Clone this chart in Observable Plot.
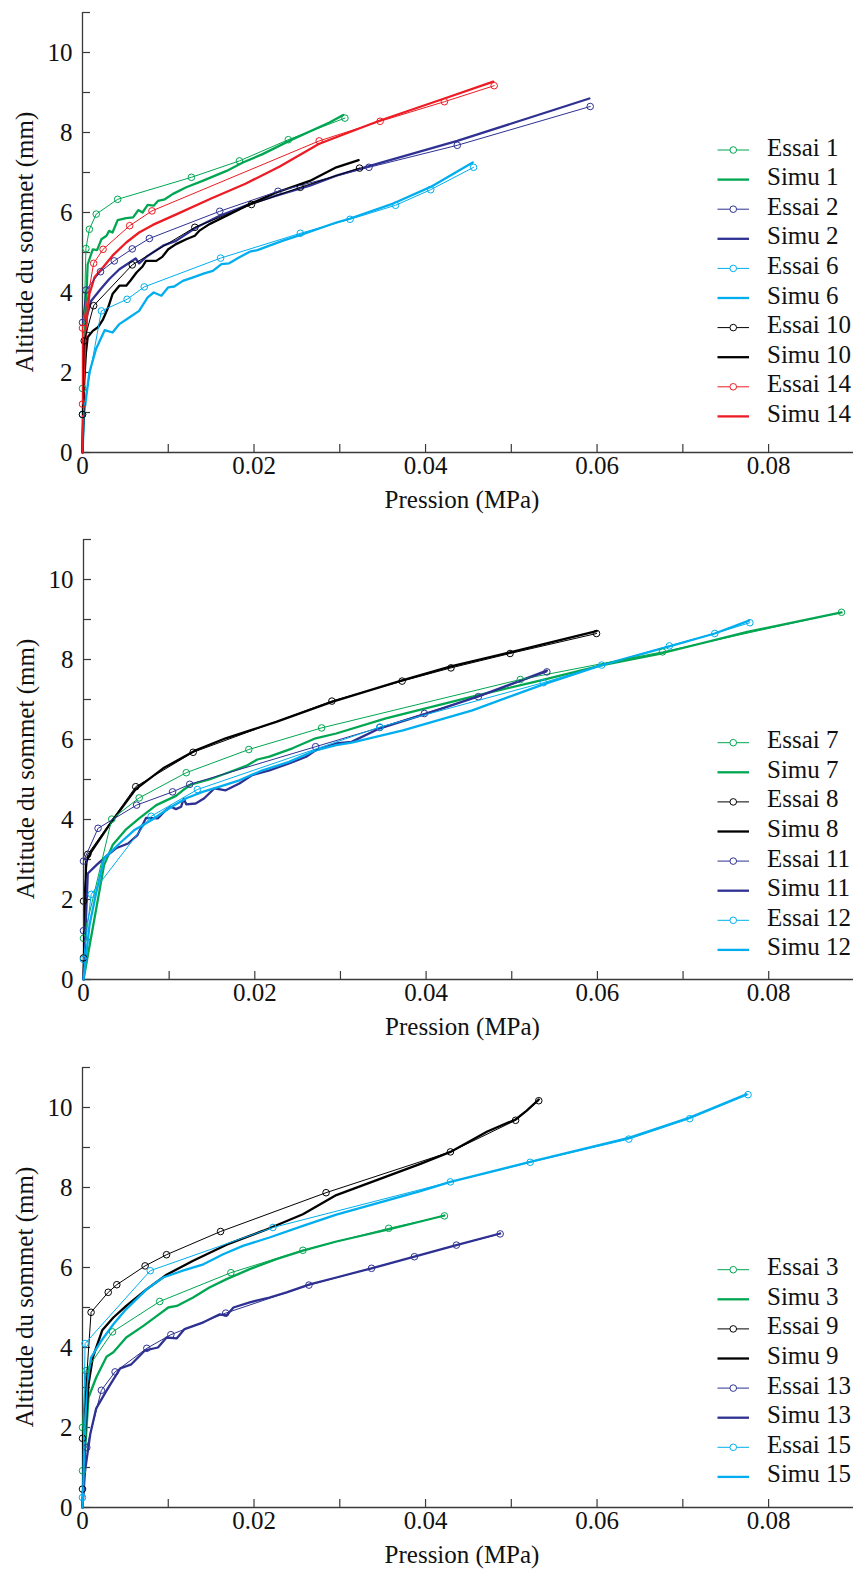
<!DOCTYPE html>
<html><head><meta charset="utf-8">
<script src="https://cdn.jsdelivr.net/npm/d3@7"></script>
<script src="https://cdn.jsdelivr.net/npm/@observablehq/plot@0.6"></script>
<style>
html,body{margin:0;padding:0;background:#fff}
#chart svg{display:block}
</style>
</head><body><div id="chart"></div>
<script>
// ---------- Panel 1 ----------
const essai1 = [[0,1.6],[0.0004,5.1],[0.0008,5.58],[0.0016,5.96],[0.0041,6.33],[0.0127,6.88],[0.0183,7.29],[0.024,7.82],[0.0306,8.36]];
const simu1 = [[0,0],[0.0002,2.5],[0.0006,4.7],[0.0012,5.08],[0.0017,5.06],[0.0022,5.33],[0.0028,5.42],[0.0031,5.54],[0.0035,5.5],[0.0041,5.81],[0.0051,5.86],[0.0059,5.88],[0.0065,6.06],[0.007,6.0],[0.0076,6.19],[0.0083,6.17],[0.0088,6.29],[0.0096,6.33],[0.0105,6.46],[0.0121,6.63],[0.014,6.79],[0.0168,7.04],[0.0187,7.25],[0.021,7.46],[0.0241,7.79],[0.0288,8.25],[0.0304,8.44]];
const essai2 = [[0,3.25],[0.0004,4.06],[0.0021,4.52],[0.0037,4.79],[0.0058,5.09],[0.0078,5.35],[0.016,6.03],[0.0228,6.53],[0.0334,7.13],[0.0437,7.68],[0.0592,8.65]];
const simu2 = [[0,0],[0.0002,2.0],[0.0005,3.4],[0.001,3.79],[0.0021,4.08],[0.0031,4.33],[0.0043,4.58],[0.0055,4.75],[0.0062,4.85],[0.0066,4.73],[0.0075,4.9],[0.0094,5.17],[0.0109,5.29],[0.0133,5.63],[0.016,5.92],[0.0195,6.21],[0.0226,6.42],[0.0265,6.67],[0.0296,6.92],[0.0334,7.16],[0.0437,7.79],[0.0591,8.85]];
const essai6 = [[0,0.95],[0.0022,3.54],[0.0052,3.83],[0.0072,4.14],[0.0161,4.86],[0.0254,5.48],[0.0312,5.83],[0.0365,6.18],[0.0406,6.57],[0.0456,7.13]];
const simu6 = [[0,0],[0.0002,1.0],[0.0008,2.0],[0.0016,2.6],[0.0026,3.06],[0.0035,3.0],[0.0043,3.21],[0.0055,3.38],[0.0066,3.54],[0.0076,3.88],[0.0083,4.0],[0.0092,3.92],[0.01,4.13],[0.0107,4.15],[0.0117,4.29],[0.0129,4.38],[0.0142,4.48],[0.0152,4.54],[0.0162,4.71],[0.0171,4.73],[0.0183,4.88],[0.0195,5.02],[0.0204,5.06],[0.0218,5.17],[0.0233,5.29],[0.0257,5.46],[0.0296,5.75],[0.0312,5.85],[0.0363,6.23],[0.0406,6.64],[0.0455,7.25]];
const essai10 = [[0,0.95],[0.0002,2.79],[0.0013,3.67],[0.0058,4.69],[0.0131,5.63],[0.0197,6.2],[0.0254,6.63],[0.0323,7.11]];
const simu10 = [[0,0],[0.0002,1.8],[0.0004,2.5],[0.0006,2.88],[0.0012,3.04],[0.0018,3.13],[0.0024,3.33],[0.003,3.63],[0.0035,3.96],[0.0043,4.17],[0.0051,4.17],[0.0056,4.3],[0.0063,4.5],[0.007,4.65],[0.0074,4.79],[0.0086,4.79],[0.0093,4.89],[0.01,5.08],[0.0109,5.21],[0.0121,5.33],[0.0131,5.42],[0.0136,5.54],[0.0148,5.71],[0.0168,5.92],[0.0195,6.21],[0.0226,6.5],[0.0265,6.79],[0.0296,7.13],[0.0322,7.31]];
const essai14 = [[0,1.21],[0,3.11],[0.0013,4.73],[0.0024,5.08],[0.0055,5.67],[0.0081,6.04],[0.0276,7.79],[0.0347,8.28],[0.0422,8.77],[0.048,9.17]];
const simu14 = [[0,0],[0.0001,1.63],[0.0004,3.13],[0.0008,3.96],[0.0014,4.38],[0.0024,4.63],[0.0035,4.92],[0.0051,5.25],[0.0066,5.5],[0.0082,5.69],[0.011,5.96],[0.015,6.35],[0.019,6.72],[0.023,7.15],[0.0276,7.72],[0.0347,8.3],[0.0422,8.85],[0.0479,9.27]];

// ---------- Panel 2 ----------
const essai7 = [[0,1.03],[0.0033,4.01],[0.0065,4.54],[0.012,5.17],[0.0193,5.75],[0.0278,6.29],[0.051,7.5],[0.0676,8.19],[0.0885,9.18]];
const simu7 = [[0,0],[0.0024,2.86],[0.0034,3.36],[0.005,3.76],[0.0065,4.03],[0.0085,4.36],[0.0108,4.59],[0.0116,4.73],[0.0126,4.88],[0.0147,5.0],[0.0166,5.15],[0.019,5.34],[0.0203,5.5],[0.0217,5.57],[0.0244,5.78],[0.0271,6.03],[0.0295,6.15],[0.0353,6.53],[0.0454,7.07],[0.0534,7.48],[0.0606,7.86],[0.0674,8.15],[0.0775,8.69],[0.0885,9.18]];
const essai8 = [[0,0.54],[0,1.96],[0.0005,3.13],[0.0061,4.82],[0.0128,5.68],[0.029,6.96],[0.0372,7.46],[0.0429,7.79],[0.0498,8.15],[0.0599,8.65]];
const simu8 = [[0,0],[0.0003,2.94],[0.0009,3.19],[0.003,3.86],[0.0061,4.76],[0.0093,5.28],[0.0131,5.73],[0.0166,6.03],[0.0225,6.44],[0.029,6.94],[0.0372,7.48],[0.0429,7.83],[0.0498,8.18],[0.0599,8.71]];
const essai11 = [[0,1.22],[0,2.96],[0.0017,3.78],[0.0062,4.36],[0.0104,4.69],[0.0124,4.88],[0.0271,5.82],[0.0346,6.3],[0.0398,6.65],[0.0461,7.07],[0.0541,7.69]];
const simu11 = [[0,0],[0.0005,2.65],[0.0015,2.86],[0.0026,3.07],[0.0038,3.28],[0.0052,3.4],[0.0063,3.61],[0.0073,4.04],[0.0087,4.03],[0.0096,4.23],[0.0102,4.32],[0.0108,4.26],[0.0114,4.32],[0.0117,4.52],[0.012,4.38],[0.0131,4.4],[0.0141,4.53],[0.0153,4.78],[0.0166,4.73],[0.0182,4.9],[0.0197,5.11],[0.0217,5.23],[0.024,5.4],[0.026,5.57],[0.0271,5.73],[0.0295,5.9],[0.0313,5.94],[0.0346,6.28],[0.0398,6.63],[0.0461,7.08],[0.0541,7.72]];
const essai12 = [[0,0.5],[0.0009,2.13],[0.0079,4.08],[0.0133,4.75],[0.0346,6.31],[0.0537,7.42],[0.0605,7.86],[0.0684,8.34],[0.0737,8.65],[0.0778,8.92]];
const simu12 = [[0,0],[0.0007,1.36],[0.0015,2.19],[0.0024,3.03],[0.0042,3.4],[0.0059,3.73],[0.0079,3.98],[0.01,4.28],[0.012,4.53],[0.0139,4.69],[0.0159,4.82],[0.0182,4.98],[0.0209,5.23],[0.024,5.44],[0.0271,5.73],[0.0295,5.86],[0.0313,5.92],[0.0373,6.23],[0.0454,6.73],[0.0537,7.38],[0.0605,7.86],[0.0684,8.33],[0.0737,8.65],[0.0777,8.97]];

// ---------- Panel 3 ----------
const essai3 = [[0,0.92],[0,2.0],[0.0004,3.42],[0.0035,4.39],[0.009,5.15],[0.0173,5.87],[0.0257,6.43],[0.0357,6.98],[0.0422,7.29]];
const simu3 = [[0,0],[0.0003,1.42],[0.0007,2.75],[0.0016,3.25],[0.0028,3.77],[0.0036,3.88],[0.0051,4.25],[0.0071,4.54],[0.0086,4.78],[0.01,5.0],[0.011,5.04],[0.0129,5.25],[0.0148,5.5],[0.0168,5.71],[0.0195,5.96],[0.0226,6.21],[0.0257,6.42],[0.0296,6.65],[0.0357,6.95],[0.0422,7.3]];
const essai9 = [[0,0.46],[0,1.73],[0.001,4.88],[0.003,5.38],[0.004,5.57],[0.0073,6.04],[0.0098,6.32],[0.0161,6.9],[0.0284,7.87],[0.0429,8.89],[0.0505,9.68],[0.0532,10.17]];
const simu9 = [[0,0],[0.0003,1.83],[0.0007,3.08],[0.0012,3.75],[0.0023,4.43],[0.0036,4.75],[0.0051,5.04],[0.0075,5.46],[0.0098,5.82],[0.0129,6.17],[0.0168,6.57],[0.0211,6.92],[0.0257,7.33],[0.0296,7.81],[0.0394,8.59],[0.0429,8.89],[0.0472,9.4],[0.0505,9.7],[0.0518,9.92],[0.0532,10.2]];
const essai13 = [[0.0005,1.5],[0.0022,2.93],[0.0038,3.39],[0.0075,3.98],[0.0103,4.32],[0.0167,4.86],[0.0264,5.56],[0.0337,5.98],[0.0387,6.27],[0.0436,6.56],[0.0487,6.84]];
const simu13 = [[0,0],[0.0003,0.92],[0.0009,1.83],[0.0016,2.48],[0.0028,2.92],[0.0044,3.48],[0.0057,3.58],[0.0073,3.93],[0.0088,4.0],[0.0098,4.25],[0.011,4.23],[0.0119,4.46],[0.0141,4.63],[0.016,4.83],[0.0168,4.8],[0.0176,5.0],[0.0195,5.13],[0.0218,5.25],[0.0238,5.38],[0.0265,5.58],[0.0296,5.75],[0.0337,5.98],[0.0387,6.27],[0.0436,6.56],[0.0487,6.85]];
const essai15 = [[0,0.25],[0.0003,4.1],[0.0079,5.92],[0.0222,7.0],[0.0429,8.14],[0.0522,8.63],[0.0637,9.21],[0.0708,9.72],[0.0776,10.32]];
const simu15 = [[0,0],[0.0002,1.42],[0.0005,3.08],[0.001,3.75],[0.0022,4.17],[0.0036,4.58],[0.0051,4.96],[0.0075,5.46],[0.0094,5.75],[0.0117,5.92],[0.0141,6.08],[0.0164,6.33],[0.0187,6.54],[0.0218,6.75],[0.0257,7.04],[0.0296,7.32],[0.0394,7.91],[0.0429,8.14],[0.0522,8.64],[0.0637,9.24],[0.0708,9.75],[0.0774,10.33]];

// ---------- Axes ----------
const xTickValues = [0,0.01,0.02,0.03,0.04,0.05,0.06,0.07,0.08];
const xTickLabels = [0,0.02,0.04,0.06,0.08];
const yTickValues = [0,1,2,3,4,5,6,7,8,9,10,11];
const yTickLabels = [0,2,4,6,8,10];
const xLabel = "Pression (MPa)";
const yLabel = "Altitude du sommet (mm)";

const GREEN = "#00a651", NAVY = "#2e3192", CYAN = "#00aeef", BLACK = "#000000", RED = "#ed1c24";
const AXIS = "#3a3a3a";
const FONT = "'Liberation Serif', 'Times New Roman', Times, serif";
const FS = 25;

const panels = [
  {series: [["Essai 1", essai1, GREEN, "essai"], ["Simu 1", simu1, GREEN, "simu"],
            ["Essai 2", essai2, NAVY, "essai"], ["Simu 2", simu2, NAVY, "simu"],
            ["Essai 6", essai6, CYAN, "essai"], ["Simu 6", simu6, CYAN, "simu"],
            ["Essai 10", essai10, BLACK, "essai"], ["Simu 10", simu10, BLACK, "simu"],
            ["Essai 14", essai14, RED, "essai"], ["Simu 14", simu14, RED, "simu"]],
   height: 527, marginTop: 12, marginLeft: 82, legendTop: 150},
  {series: [["Essai 7", essai7, GREEN, "essai"], ["Simu 7", simu7, GREEN, "simu"],
            ["Essai 8", essai8, BLACK, "essai"], ["Simu 8", simu8, BLACK, "simu"],
            ["Essai 11", essai11, NAVY, "essai"], ["Simu 11", simu11, NAVY, "simu"],
            ["Essai 12", essai12, CYAN, "essai"], ["Simu 12", simu12, CYAN, "simu"]],
   height: 527, marginTop: 12, marginLeft: 83, legendTop: 215.7},
  {series: [["Essai 3", essai3, GREEN, "essai"], ["Simu 3", simu3, GREEN, "simu"],
            ["Essai 9", essai9, BLACK, "essai"], ["Simu 9", simu9, BLACK, "simu"],
            ["Essai 13", essai13, NAVY, "essai"], ["Simu 13", simu13, NAVY, "simu"],
            ["Essai 15", essai15, CYAN, "essai"], ["Simu 15", simu15, CYAN, "simu"]],
   height: 522, marginTop: 13, marginLeft: 82, legendTop: 215.7}
];

const W = 853, PLOT_H = 440;

function drawPanel(p) {
  const plotW = W - p.marginLeft;
  const mb = p.height - p.marginTop - PLOT_H;
  const toRows = pts => pts.map(([x, y]) => ({x, y}));
  const marks = [
    Plot.ruleY([0], {stroke: AXIS, strokeWidth: 1.3}),
    Plot.ruleX([0], {stroke: AXIS, strokeWidth: 1.3}),
    Plot.tickY(yTickValues, {y: d => d, insetRight: plotW - 8, stroke: AXIS, strokeWidth: 1.2}),
    Plot.tickX(xTickValues, {x: d => d, insetTop: PLOT_H - 8, stroke: AXIS, strokeWidth: 1.2}),
    Plot.text(yTickLabels, {y: d => d, text: d => String(d), frameAnchor: "left", textAnchor: "end", dx: -10, fill: "#111", fontSize: FS}),
    Plot.text(xTickLabels, {x: d => d, text: d => d === 0 ? "0" : d.toFixed(2), frameAnchor: "bottom", textAnchor: "middle", dy: 21, fill: "#111", fontSize: FS}),
    Plot.text([xLabel], {text: d => d, frameAnchor: "bottom", textAnchor: "middle", dy: 55, dx: -6, fill: "#111", fontSize: FS}),
    Plot.text([yLabel], {text: d => d, frameAnchor: "left", textAnchor: "middle", rotate: -90, dx: -58, dy: 9.5, fill: "#111", fontSize: FS})
  ];
  for (const [name, pts, color, kind] of p.series) {
    if (kind === "simu") marks.push(Plot.line(toRows(pts), {x: "x", y: "y", stroke: color, strokeWidth: 2.3, strokeLinejoin: "round"}));
  }
  for (const [name, pts, color, kind] of p.series) {
    if (kind === "essai") {
      marks.push(Plot.line(toRows(pts), {x: "x", y: "y", stroke: color, strokeWidth: 1}));
      marks.push(Plot.dot(toRows(pts), {x: "x", y: "y", r: 3.3, stroke: color, fill: "none", strokeWidth: 1}));
    }
  }
  const svg = Plot.plot({
    width: W, height: p.height,
    marginLeft: p.marginLeft, marginRight: 0, marginTop: p.marginTop, marginBottom: mb,
    x: {domain: [0, 0.0899], axis: null},
    y: {domain: [0, 11], axis: null},
    style: {fontFamily: FONT, fontSize: FS + "px", background: "white", overflow: "visible"},
    marks
  });
  // legend
  const g = d3.select(svg).append("g").attr("transform", `translate(717.5, ${p.legendTop})`)
    .attr("text-anchor", "start")
    .style("font-family", FONT).style("font-size", FS + "px");
  p.series.forEach(([name, pts, color, kind], i) => {
    const yy = i * 29.6;
    g.append("line").attr("x1", 0).attr("x2", 31.5).attr("y1", yy).attr("y2", yy)
      .attr("stroke", color).attr("stroke-width", kind === "simu" ? 2.3 : 1);
    if (kind === "essai") g.append("circle").attr("cx", 15.75).attr("cy", yy).attr("r", 3.3)
      .attr("fill", "white").attr("stroke", color).attr("stroke-width", 1);
    g.append("text").attr("x", 49.5).attr("y", yy + 5.5).attr("text-anchor", "start")
      .attr("fill", "#111").text(name);
  });
  return svg;
}

const root = document.getElementById("chart");
for (const p of panels) root.appendChild(drawPanel(p));
</script>
</body></html>
